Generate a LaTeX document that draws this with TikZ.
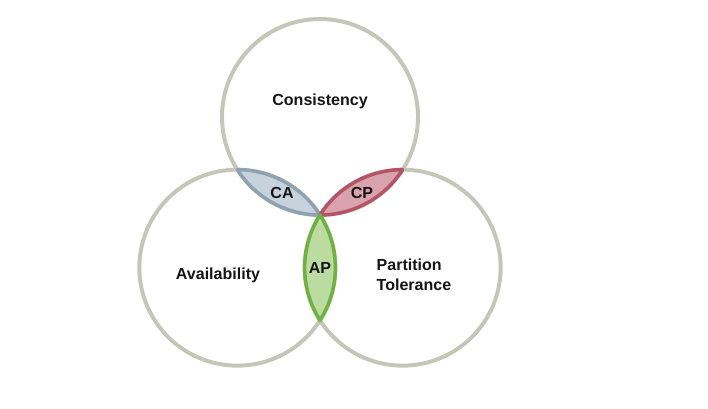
\documentclass[tikz,border=0pt]{standalone}
\usepackage{fontspec}
\setmainfont{Liberation Sans}
\usepackage{tikz}
\usetikzlibrary{positioning, calc}
\definecolor{ringgray}{HTML}{C4C6B8}
\definecolor{cafill}{HTML}{C6D3DC}
\definecolor{caline}{HTML}{8FA2B0}
\definecolor{cpfill}{HTML}{D9A3AD}
\definecolor{cpline}{HTML}{B55467}
\definecolor{apfill}{HTML}{BCDBA0}
\definecolor{apline}{HTML}{6DB33F}
\tikzstyle{ring}    = [draw=ringgray, line width=2.8pt]
\tikzstyle{lens}    = [line width=2.5pt, line join=round]
\tikzstyle{captext} = [font=\bfseries\fontsize{11.4}{14.3}\selectfont, text=black!92, inner sep=1pt]

\begin{document}
\begin{tikzpicture}[x=0.025cm, y=0.025cm]
  \useasboundingbox (0,0) rectangle (708,408);
  \def\crad{98}

  % --- common point and circle centres ---
  \coordinate (p)     at (320,193);
  \coordinate (c_top) at ($(p)+(90:\crad)$);
  \coordinate (c_lft) at ($(p)+(212.5:\crad)$);
  \coordinate (c_rgt) at ($(p)+(-32.5:\crad)$);

  % --- Circles ---
  \draw[ring] (c_top) circle[radius=\crad];
  \draw[ring] (c_lft) circle[radius=\crad];
  \draw[ring] (c_rgt) circle[radius=\crad];

  % --- Lenses ---
  \draw[lens, fill=cafill, draw=caline] (p)
        arc[start angle=270, end angle=212.5, radius=\crad]
        arc[start angle=90, end angle=32.5, radius=\crad] -- cycle;
  \draw[lens, fill=cpfill, draw=cpline] (p)
        arc[start angle=270, end angle=327.5, radius=\crad]
        arc[start angle=90, end angle=147.5, radius=\crad] -- cycle;
  \draw[lens, fill=apfill, draw=apline] (p)
        arc[start angle=32.5, end angle=-32.5, radius=\crad]
        arc[start angle=212.5, end angle=147.5, radius=\crad] -- cycle;

  % --- Labels ---
  \node (cons)  [captext] at (320,307) {Consistency};
  \node (avail) [captext] at (218,133) {Availability};
  \node (part)  [captext, align=left, anchor=west] at (375,133) {Partition\\ Tolerance};
  \node (ca)    [captext] at (282,215) {CA};
  \node (cp)    [captext] at (362,215) {CP};
  \node (ap)    [captext] at (320,140) {AP};

\end{tikzpicture}
\end{document}
